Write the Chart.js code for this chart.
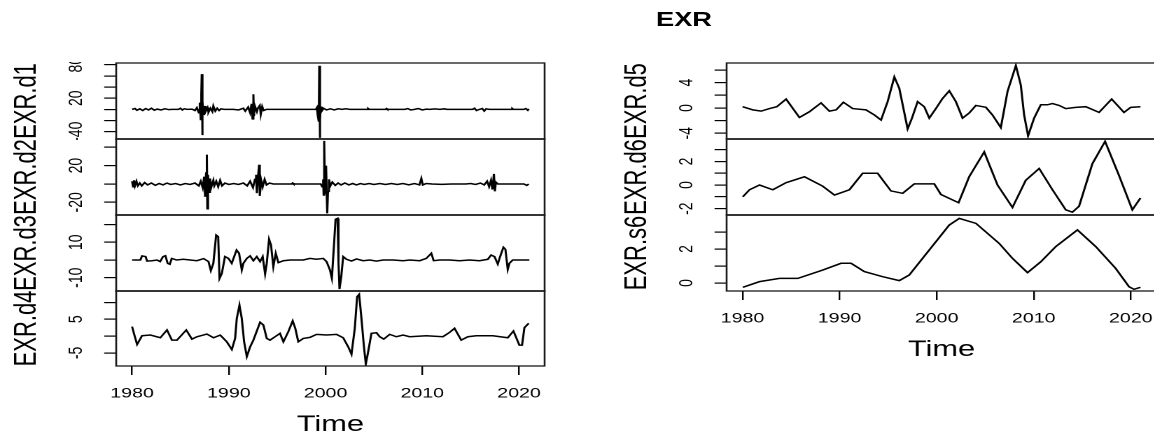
<!DOCTYPE html>
<html lang="en">
<head>
  <meta charset="UTF-8">
  <title>EXR wavelet decomposition</title>
  <script src="https://cdn.jsdelivr.net/npm/chart.js"></script>
  <style>
    * {
      margin: 0;
      padding: 0;
    }

    body {
      width: 1154px;
      height: 440px;
      overflow: hidden;
      background: #fff;
    }

    /* the source picture is stretched sideways, so the whole stage is too */
    #stage {
      position: relative;
      width: 840px;
      height: 440px;
      transform: scaleX(1.4);
      transform-origin: 0 0;
    }

    .panel {
      position: absolute;
    }

    #title {
      position: absolute;
      left: 438.6px;
      top: 9px;
      width: 100px;
      text-align: center;
      font: bold 19.5px 'Liberation Sans', Arial, sans-serif;
      line-height: 20px;
      color: #000;
    }
  </style>
</head>
<body>
<div id="stage">
  <div id="title">EXR</div>
</div>

<script>
  const FONT = "'Liberation Sans', Arial, sans-serif";
  const xMin = 1978.36, xMax = 2022.64;
  const yearTicks = [1980, 1990, 2000, 2010, 2020];

  // ---- left column: d1 .. d4 ----
  const d1Time = [1980.0, 1980.3, 1980.5, 1980.8, 1981.1, 1981.4, 1981.7, 1982.0, 1982.3, 1982.6, 1983.0, 1983.4, 1983.8, 1984.1,
    1984.8, 1985.0, 1985.2, 1985.4, 1985.7, 1986.2, 1986.5, 1986.7, 1986.9, 1987.0, 1987.1, 1987.15, 1987.2, 1987.25, 1987.3,
    1987.4, 1987.5, 1987.6, 1987.8, 1987.9, 1988.1, 1988.3, 1988.4, 1988.6, 1988.8, 1989.0, 1989.2, 1989.5, 1990.5, 1991.0,
    1991.5, 1991.7, 1992.0, 1992.2, 1992.35, 1992.45, 1992.54, 1992.6, 1992.7, 1992.9, 1993.0, 1993.2, 1993.3, 1993.45, 1993.6,
    1993.9, 1999.0, 1999.1, 1999.2, 1999.28, 1999.32, 1999.35, 1999.4, 1999.45, 1999.5, 1999.6, 1999.8, 2000.1, 2000.5, 2000.9,
    2001.3, 2001.7, 2002.1, 2002.5, 2004.3, 2004.4, 2004.5, 2006.2, 2006.3, 2006.4, 2008.2, 2008.5, 2008.8, 2009.2, 2009.6,
    2010.0, 2010.4, 2010.8, 2011.3, 2011.8, 2012.3, 2012.5, 2015.2, 2015.4, 2015.6, 2015.9, 2016.2, 2016.4, 2016.6, 2016.9,
    2019.2, 2019.3, 2019.4, 2020.5, 2020.7, 2020.9, 2021.0];
  const d1Vals = [0, 1.5, -1.5, 1, -2, 1.5, -1, 2, -1.5, 0.5, -1, 1, -0.5, 0,
    0, 2, -1, 1, 0, 0.5, -2, 3, -6, 12, -18, 25, 63, -46, 14,
    -10, 6, -4, 3, -5, 2, -4, 6, -3, 2, -2, 1, 0, 0, -1,
    2, -3, 4, -6, 10, -17, 27, -12, 6, -4, 2, 7, -9, 5, -2,
    0, 0, 3, -12, 8, -22, 78, -51, -18, 5, -3, 2, -1, 1, -1,
    1, 0, 1, 0, 0, 1.5, 0, 0, 1.5, 0, 0, 1.5, -1, 0, 1.5,
    -1, 0.5, 0, 1, 0, 1, 0, 0, 2, -2, 0, 1.5, -3, 1, 0,
    0, 1.5, 0, 0, 1.5, -1.5, 1];
  const d1Range = [-53, 83];
  const d1Ticks = [-40, -20, 0, 20, 40, 60, 80];
  const d1Labels = [-40, 20, 80];

  const d2Time = [1980.0, 1980.1, 1980.2, 1980.3, 1980.45, 1980.6, 1980.8, 1981.0, 1981.3, 1981.6, 1982.0, 1982.4, 1982.8, 1983.2,
    1983.6, 1984.0, 1984.5, 1985.0, 1985.5, 1986.0, 1986.5, 1986.9, 1987.1, 1987.3, 1987.45, 1987.55, 1987.65, 1987.73, 1987.78,
    1987.85, 1987.95, 1988.05, 1988.2, 1988.4, 1988.5, 1988.7, 1988.9, 1989.1, 1989.3, 1989.6, 1990.0, 1990.5, 1991.0, 1991.5,
    1991.9, 1992.2, 1992.5, 1992.7, 1992.82, 1992.9, 1993.0, 1993.13, 1993.2, 1993.35, 1993.5, 1993.7, 1993.9, 1994.2, 1994.6,
    1996.5, 1996.6, 1996.7, 1999.5, 1999.65, 1999.75, 1999.8, 1999.86, 1999.95, 2000.05, 2000.17, 2000.25, 2000.35, 2000.5,
    2000.7, 2001.0, 2001.3, 2001.6, 2002.0, 2002.4, 2002.8, 2003.2, 2003.6, 2004.0, 2004.5, 2005.0, 2005.6, 2006.2, 2006.8,
    2007.4, 2008.0, 2008.6, 2009.2, 2009.7, 2009.9, 2010.05, 2010.4, 2011.0, 2012.0, 2013.0, 2014.5, 2015.0, 2015.5, 2016.0,
    2016.4, 2016.7, 2016.9, 2017.1, 2017.25, 2017.4, 2017.5, 2017.6, 2017.8, 2020.5, 2020.8, 2021.0];
  const d2Vals = [3, -3, 4, -2, 3, -2, 1, -2, 1.5, -1, 1, -1.5, 0.5, -1,
    1, -0.5, 0.5, -1, 0.5, -0.5, 1, -2, 3, -4, 8, -14, 12, 32, -27,
    10, -9, 6, -3, 4, -2, 3, -3, 4, -2, 1, -0.5, 0.5, -0.5, 1,
    -2, 3, -4, 5, 10, -10, 6, 21, -13, 4, -3, 5, -1, 1, 0,
    0, 1, 0, 0, -3, 5, -12, 47, -10, 20, -32, -8, 5, -2,
    2, -1.5, 1, -1, 1, -1, 0.5, -1, 0.5, -0.5, 0.5, -0.5, 0.5, -0.5, 0.5,
    -0.5, 0.5, -1, 0.5, -1, 6, -1, 0.5, 0, -0.5, 0, 0, 0.5, -0.5, 1,
    -1, 3, -3, 4, -6, 11, -8, 2, 0, 0, -1.5, 0];
  const d2Range = [-33.8, 49];
  const d2Ticks = [-20, 0, 20, 40];
  const d2Labels = [-20, 20];

  const d3Time = [1980.0, 1980.86, 1981.03, 1981.4, 1981.55, 1982.06, 1982.58, 1982.9, 1983.2, 1983.44, 1983.68, 1983.9, 1984.1,
    1984.6, 1985.3, 1986.0, 1986.7, 1987.4, 1987.9, 1988.14, 1988.4, 1988.69, 1988.9, 1989.04, 1989.28, 1989.6, 1989.96, 1990.3,
    1990.55, 1990.8, 1991.06, 1991.34, 1991.5, 1991.86, 1992.2, 1992.54, 1992.89, 1993.23, 1993.5, 1993.75, 1993.92, 1994.16,
    1994.36, 1994.6, 1994.85, 1995.12, 1995.64, 1996.33, 1997.7, 1998.38, 1999.07, 1999.76, 2000.1, 2000.45, 2000.65, 2000.86,
    2001.03, 2001.24, 2001.34, 2001.44, 2001.62, 2001.82, 2002.16, 2002.68, 2003.2, 2003.88, 2004.57, 2005.26, 2005.95,
    2006.98, 2008.01, 2008.7, 2009.73, 2010.41, 2010.93, 2011.17, 2011.79, 2012.82, 2013.85, 2014.88, 2015.91, 2016.77,
    2017.11, 2017.46, 2017.8, 2018.04, 2018.38, 2018.59, 2018.83, 2019.0, 2019.35, 2020.03, 2021.06];
  const d3Vals = [0, 0, 2.3, 1.9, -0.6, -0.4, 0, -0.9, 1.9, 2.4, -1.9, -2.4, 0.9,
    0, 0.4, 0, -0.4, 0.8, -0.9, -6, -1.9, 14.1, 13.2, -10.4, -7.5, 1.9, 0.9, -1.9,
    1.9, 5.6, 3.8, -5.6, -1.9, 0.9, 2.3, -0.4, 1.9, -0.9, 1.9, -7.9, -1.9, 11.7,
    8.5, -3.8, 3.8, -1.5, -0.4, 0, 0, 0.9, 0.4, 0.9, -0.9, -5.6, -10.4, 7.5,
    23, 23.5, -1.9, -16.4, -9.4, 1.9, 0.4, -0.6, 0.6, -0.4, 0, -0.6, 0,
    0, -0.4, 0, -0.4, 0.9, 3.8, -0.4, 0, 0, -0.4, 0, -0.4, 0.4,
    2.8, 1.9, -2.3, 1.9, 7.2, 6.0, -5.3, -1.9, 0, 0, 0];
  const d3Range = [-17.5, 25.4];
  const d3Ticks = [-10, 0, 10, 20];
  const d3Labels = [-10, 10];

  const d4Time = [1980.0, 1980.24, 1980.52, 1981.03, 1981.89, 1982.92, 1983.61, 1984.12, 1984.64, 1985.6, 1986.19, 1986.7,
    1987.73, 1988.42, 1989.11, 1989.79, 1990.31, 1990.65, 1990.82, 1991.1, 1991.34, 1991.58, 1991.86, 1992.2, 1992.54,
    1993.23, 1993.57, 1993.92, 1994.26, 1994.78, 1995.29, 1995.64, 1996.15, 1996.6, 1996.87, 1997.18, 1997.7, 1998.38,
    1999.07, 2000.1, 2001.13, 2001.82, 2002.34, 2002.68, 2003.02, 2003.26, 2003.47, 2003.71, 2003.95, 2004.16, 2004.4,
    2004.74, 2005.26, 2005.6, 2006.01, 2006.63, 2007.32, 2008.01, 2008.69, 2010.41, 2012.13, 2012.82, 2013.33, 2014.02,
    2014.71, 2015.57, 2017.29, 2018.83, 2019.42, 2020.03, 2020.31, 2020.55, 2021.0];
  const d4Vals = [2.8, 0.3, -2.5, 0.1, 0.3, -0.5, 1.8, -1.2, -1.2, 1.8, -0.9, -0.2,
    0.6, -0.5, 0.3, -1.7, -4.0, -0.7, 5.2, 9.2, 5.2, -1.7, -6.1, -3.2, -1.2,
    4.1, 3.3, -0.7, -1.2, -0.2, 0.8, -1.7, 1.3, 4.5, 2.3, -1.7, -0.7, -0.4,
    0.5, 0.3, 0.5, -0.5, -3.2, -5.4, 2.3, 11.7, 12.4, 5.2, -2.7, -8.3, -4.7,
    0.8, 1.0, -0.2, -0.9, 0.5, -0.2, 0.3, -0.2, 0.1, -0.2, 1.1, 2.3, -1.2,
    -0.2, 0.1, 0.1, -0.5, 1.5, -2.7, -2.7, 2.5, 3.8];
  const d4Range = [-8.9, 13.4];
  const d4Ticks = [-5, 0, 5, 10];
  const d4Labels = [-5, 5];

  // ---- right column: d5, d6, s6 ----
  const d5Time = [1980.0, 1981.06, 1981.92, 1982.78, 1983.53, 1984.49, 1985.86, 1986.89, 1988.09, 1988.95, 1989.64, 1990.39,
    1991.35, 1992.72, 1993.58, 1994.27, 1994.95, 1995.64, 1996.15, 1997.01, 1997.46, 1998.04, 1998.72, 1999.24, 1999.92,
    2000.61, 2001.3, 2001.98, 2002.67, 2003.35, 2004.04, 2005.07, 2005.75, 2006.61, 2007.3, 2008.16, 2008.67, 2009.01,
    2009.42, 2010.04, 2010.73, 2011.41, 2011.93, 2012.61, 2013.3, 2014.33, 2015.36, 2016.73, 2018.03, 2019.3, 2019.99, 2021.0];
  const d5Vals = [0.2, -0.3, -0.5, -0.1, 0.2, 1.4, -1.5, -0.6, 0.8, -0.5, -0.3, 0.9,
    -0.1, -0.3, -1.1, -1.9, 1.0, 4.9, 3.1, -3.3, -1.6, 1.0, 0.2, -1.6, -0.1,
    1.5, 2.7, 1.0, -1.6, -0.8, 0.4, 0.1, -1.1, -3.1, 2.6, 6.7, 3.6, -1.1,
    -4.4, -1.6, 0.5, 0.5, 0.7, 0.4, -0.1, 0.1, 0.2, -0.7, 1.4, -0.7, 0.1, 0.2];
  const d5Range = [-4.9, 7.1];
  const d5Ticks = [-4, -2, 0, 2, 4, 6];
  const d5Labels = [-4, 0, 4];

  const d6Time = [1980.03, 1980.72, 1981.75, 1983.12, 1984.49, 1986.38, 1988.26, 1989.47, 1991.01, 1992.38, 1993.92, 1995.29,
    1996.5, 1997.7, 1999.75, 2000.44, 2002.26, 2003.35, 2004.9, 2006.27, 2007.81, 2009.18, 2010.56, 2011.93, 2013.3,
    2013.98, 2014.67, 2016.04, 2017.35, 2018.79, 2020.16, 2021.0];
  const d6Vals = [-1.0, -0.4, 0, -0.4, 0.2, 0.7, -0.1, -0.85, -0.4, 1.0, 1.0, -0.5,
    -0.7, 0.1, 0.1, -0.8, -1.5, 0.7, 2.8, 0, -1.9, 0.4, 1.4, -0.4, -2.1,
    -2.3, -1.8, 1.8, 3.7, 0.8, -2.1, -1.1];
  const d6Range = [-2.54, 3.9];
  const d6Ticks = [-2, -1, 0, 1, 2, 3];
  const d6Labels = [-2, 0, 2];

  const s6Time = [1980.03, 1981.75, 1983.81, 1985.69, 1988.26, 1990.15, 1991.18, 1992.55, 1994.44, 1996.15, 1997.18, 1999.24,
    2001.3, 2002.33, 2004.04, 2006.44, 2007.81, 2009.36, 2010.73, 2012.27, 2014.5, 2016.39, 2018.44, 2019.82, 2020.33, 2021.0];
  const s6Vals = [-0.25, 0.08, 0.27, 0.27, 0.76, 1.16, 1.16, 0.67, 0.37, 0.14, 0.47, 1.94,
    3.41, 3.8, 3.51, 2.33, 1.45, 0.61, 1.25, 2.14, 3.12, 2.14, 0.86, -0.22, -0.37, -0.25];
  const s6Range = [-0.47, 4.0];
  const s6Ticks = [0, 1, 2, 3];
  const s6Labels = [0, 2];

  const AXIS_W = 80;   // room left of each box for ticks, labels and name
  const XAXIS_H = 75;  // room under the bottom boxes

  // box outline + rotated y labels, R style
  const rPanel = {
    id: 'rPanel',
    afterDraw(chart, args, opts) {
      const {ctx, chartArea: a} = chart;
      const y = chart.scales.y;
      ctx.save();
      ctx.strokeStyle = '#1a1a1a';
      ctx.lineWidth = 1.3;
      ctx.strokeRect(a.left, a.top, a.right - a.left, a.bottom - a.top);
      ctx.fillStyle = '#000';
      ctx.font = '14px ' + FONT;
      ctx.textAlign = 'center';
      ctx.textBaseline = 'middle';
      opts.labels.forEach(v => {
        ctx.save();
        ctx.translate(a.left - 28.6, y.getPixelForValue(v));
        ctx.rotate(-Math.PI / 2);
        ctx.fillText(String(v), 0, 0);
        ctx.restore();
      });
      ctx.restore();
    }
  };

  const stage = document.getElementById('stage');

  function makePanel(p) {
    const showX = !!p.showX;
    const cw = Math.round(AXIS_W + p.w + 2);
    const ch = p.h + 2 + (showX ? XAXIS_H : 0);
    const box = document.createElement('div');
    box.className = 'panel';
    box.style.left = (p.left - AXIS_W) + 'px';
    box.style.top = (p.top - 1) + 'px';
    const canvas = document.createElement('canvas');
    canvas.width = cw;
    canvas.height = ch;
    canvas.style.width = cw + 'px';
    canvas.style.height = ch + 'px';
    box.appendChild(canvas);
    stage.appendChild(box);

    new Chart(canvas, {
      type: 'line',
      data: {
        datasets: [{
          data: p.time.map((t, i) => ({x: t, y: p.vals[i]})),
          borderColor: '#000',
          borderWidth: 1.5,
          pointRadius: 0,
          tension: 0,
          fill: false
        }]
      },
      options: {
        responsive: false,
        devicePixelRatio: 2,
        animation: false,
        events: [],
        layout: {padding: {top: 1, right: 2, bottom: 1, left: 0}},
        plugins: {
          legend: {display: false},
          tooltip: {enabled: false},
          rPanel: {labels: p.labels}
        },
        scales: {
          x: {
            type: 'linear',
            display: showX,
            min: xMin,
            max: xMax,
            afterBuildTicks: s => { s.ticks = yearTicks.map(v => ({value: v})); },
            afterFit: s => {
              s.height = showX ? XAXIS_H : 0;
              // keep the box edges fixed, labels may hang over them
              s.paddingLeft = 0;
              s.paddingRight = 0;
            },
            grid: {drawOnChartArea: false, tickLength: 9, color: '#000', lineWidth: 1.2},
            border: {display: false},
            ticks: {
              autoSkip: false,
              maxRotation: 0,
              padding: 10,
              color: '#000',
              font: {family: FONT, size: 14},
              callback: v => String(v)
            },
            title: {
              display: true,
              text: 'Time',
              color: '#000',
              font: {family: FONT, size: 22},
              padding: {top: 0, bottom: 3}
            }
          },
          y: {
            type: 'linear',
            min: p.range[0],
            max: p.range[1],
            afterBuildTicks: s => { s.ticks = p.ticks.map(v => ({value: v})); },
            afterFit: s => {
              s.width = AXIS_W;
              s.paddingTop = 0;
              s.paddingBottom = 0;
            },
            grid: {drawOnChartArea: false, tickLength: 8.6, color: '#000', lineWidth: 1.2},
            border: {display: false},
            ticks: {display: false},
            title: {
              display: true,
              text: p.name,
              color: '#000',
              font: {family: FONT, size: 22},
              padding: {top: 3, bottom: 0}
            }
          }
        }
      },
      plugins: [rPanel]
    });
  }

  const leftX = 82.9, leftW = 306.4;
  const rightX = 519.3, rightW = 307.1;

  makePanel({name: 'EXR.d1', time: d1Time, vals: d1Vals, range: d1Range, ticks: d1Ticks, labels: d1Labels, left: leftX, w: leftW, top: 63, h: 76});
  makePanel({name: 'EXR.d2', time: d2Time, vals: d2Vals, range: d2Range, ticks: d2Ticks, labels: d2Labels, left: leftX, w: leftW, top: 139, h: 76});
  makePanel({name: 'EXR.d3', time: d3Time, vals: d3Vals, range: d3Range, ticks: d3Ticks, labels: d3Labels, left: leftX, w: leftW, top: 215, h: 76});
  makePanel({name: 'EXR.d4', time: d4Time, vals: d4Vals, range: d4Range, ticks: d4Ticks, labels: d4Labels, left: leftX, w: leftW, top: 291, h: 75, showX: true});

  makePanel({name: 'EXR.d5', time: d5Time, vals: d5Vals, range: d5Range, ticks: d5Ticks, labels: d5Labels, left: rightX, w: rightW, top: 63, h: 76});
  makePanel({name: 'EXR.d6', time: d6Time, vals: d6Vals, range: d6Range, ticks: d6Ticks, labels: d6Labels, left: rightX, w: rightW, top: 139, h: 76});
  makePanel({name: 'EXR.s6', time: s6Time, vals: s6Vals, range: s6Range, ticks: s6Ticks, labels: s6Labels, left: rightX, w: rightW, top: 215, h: 76, showX: true});
</script>

</body>
</html>
